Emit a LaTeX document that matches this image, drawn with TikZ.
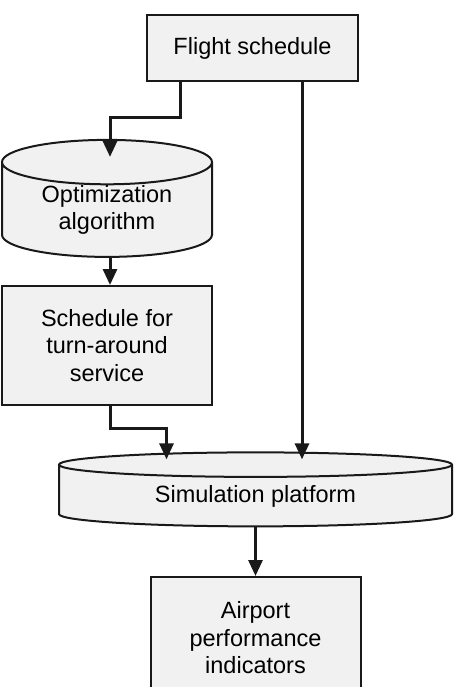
\documentclass[tikz,border=0pt]{standalone}
\usepackage{fontspec}
\setmainfont{Liberation Sans}
\usetikzlibrary{arrows.meta,positioning,shapes.geometric}
\definecolor{boxgray}{RGB}{241,241,241}
\definecolor{linegray}{RGB}{25,25,25}

\begin{document}
\begin{tikzpicture}[
  x=1pt, y=1pt,
  font=\fontsize{23.5}{27.5}\selectfont,
  box/.style={draw=linegray, fill=boxgray, line width=2pt, align=center, inner sep=0pt},
  proc/.style={box, rectangle, minimum width=211pt},
  store/.style={box, cylinder, shape border rotate=90},
  arrow/.style={-{Triangle[length=16pt, width=14pt]}, line width=3pt, color=linegray}
]
\useasboundingbox (0,0) rectangle (456,-687);
\node[proc, minimum height=66pt] (flight) at (252.5,-48) {Flight schedule};
\node[store, aspect=0.34, minimum width=210pt, minimum height=117pt] (optalg) at (107,-210) {Optimization\\algorithm};
\node[proc, minimum width=210pt, minimum height=119pt] (turnsched) at (107,-345.5) {Schedule for\\turn-around\\service};
\node[store, aspect=0.122, minimum width=393pt, minimum height=74pt] (simplat) at (255.5,-496) {Simulation platform};
\node[proc, minimum width=210pt, minimum height=122pt] (perf) at (255.5,-638) {Airport\\performance\\indicators};
\draw[arrow] ([xshift=34pt]flight.south west) -- ++(0,-36pt) -| ([xshift=3pt, yshift=-18pt]optalg.north);
\draw[arrow] ([xshift=3pt]optalg.south) -- ([xshift=3pt]turnsched.north);
\draw[arrow] ([xshift=3pt]turnsched.south) -- ++(0,-22pt) -| ([xshift=-89pt, yshift=-8pt]simplat.north);
\draw[arrow] ([xshift=49.5pt]flight.south) -- ([xshift=46.5pt, yshift=-8pt]simplat.north);
\draw[arrow] (simplat.south) -- (perf.north);
\end{tikzpicture}
\end{document}
